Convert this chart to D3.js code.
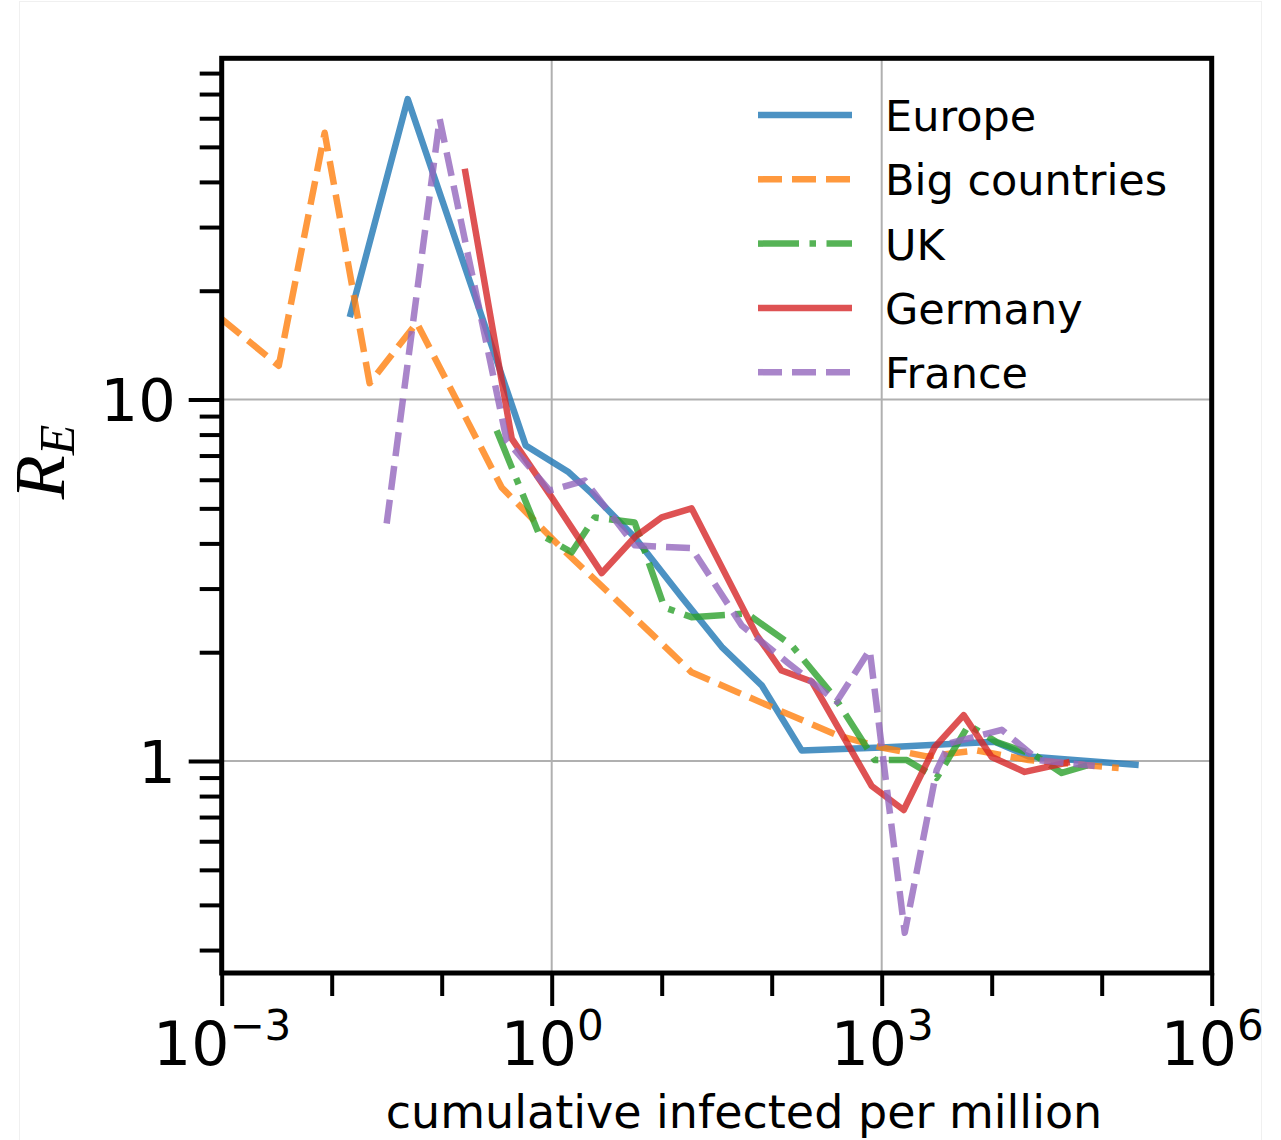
<!DOCTYPE html>
<html>
<head>
<meta charset="utf-8">
<script src="https://cdn.jsdelivr.net/npm/d3@7"></script>
<style>
  body { margin: 0; background: #fff; }
  svg { display: block; font-family: 'DejaVu Sans', sans-serif; }
</style>
</head>
<body>
<div id="chart"></div>
<script>
// values
const seriesNames = ['Europe', 'Big countries', 'UK', 'Germany', 'France'];

const europeX = [0.0146, 0.0491, 0.58, 1.43, 2.31, 5.68, 15.2, 35.1, 81.1, 187, 1000, 10640, 21700, 217000];
const europeY = [16.9, 67.8, 7.46, 6.29, 5.5, 4.16, 2.84, 2.07, 1.62, 1.07, 1.09, 1.13, 1.03, 0.975];

const bigX = [0.001, 0.0033, 0.00863, 0.0221, 0.0593, 0.351, 1.23, 3.51, 18.7, 100, 390, 1000, 2565, 7310, 21700, 142800];
const bigY = [16.7, 12.4, 54.7, 11.1, 16.3, 5.71, 3.88, 2.87, 1.76, 1.41, 1.18, 1.09, 1.03, 1.07, 1.006, 0.956];

const ukX = [0.316, 0.762, 1.52, 2.46, 5.68, 10.6, 18.7, 59.3, 152, 374, 864, 1690, 3160, 6180, 11100, 24600, 43300, 86400];
const ukY = [8.21, 4.26, 3.78, 4.72, 4.57, 2.66, 2.5, 2.56, 2.09, 1.5, 1.006, 1.006, 0.898, 1.257, 1.128, 1.039, 0.927, 0.987];

const germanyX = [0.162, 0.433, 1.0, 2.85, 5.68, 10, 18.7, 73.1, 123, 231, 811, 1585, 3030, 5560, 10000, 19950, 51200];
const germanyY = [43.5, 7.8, 5.36, 3.31, 4.16, 4.72, 5.0, 2.23, 1.78, 1.66, 0.853, 0.732, 1.093, 1.34, 1.026, 0.933, 0.994];

const franceX = [0.0316, 0.0959, 0.39, 0.959, 2.0, 5.68, 18.7, 53.4, 137, 390, 778, 1620, 3160, 4150, 12330, 26700, 86400];
const franceY = [4.54, 59.7, 7.7, 5.6, 5.97, 3.95, 3.88, 2.37, 1.88, 1.46, 2.03, 0.335, 0.944, 1.12, 1.22, 1.006, 0.969];

const xMajorTicks = [1e-3, 1e0, 1e3, 1e6];
const xMajorExp = ['\u22123', '0', '3', '6'];
const xMinorTicks = [1e-2, 1e-1, 1e1, 1e2, 1e4, 1e5];
const yMajorTicks = [1, 10];
const yMajorLabels = ['1', '10'];
const yMinorTicks = [0.3, 0.4, 0.5, 0.6, 0.7, 0.8, 0.9, 2, 3, 4, 5, 6, 7, 8, 9, 20, 30, 40, 50, 60, 70, 80];

const xDomain = [1e-3, 1e6];
const yDomain = [0.2592, 87.9];

const W = 1281, H = 1140;
const plot = { left: 221.7, right: 1211.7, top: 58.3, bottom: 973 };

const colors = ['#1f77b4', '#ff7f0e', '#2ca02c', '#d62728', '#9467bd'];
const lw = 6.5;
const dashes = [null, '24,10', '41,10.5,6.5,10.5', null, '24,10'];

const svg = d3.select('#chart').append('svg')
  .attr('width', W)
  .attr('height', H);

// faint frame of the picture
svg.append('rect')
  .attr('x', 19.5).attr('y', 1.5)
  .attr('width', 1242).attr('height', 1150)
  .attr('fill', 'none')
  .attr('stroke', '#f0f0f0')
  .attr('stroke-width', 1);

const x = d3.scaleLog().domain(xDomain).range([plot.left, plot.right]);
const y = d3.scaleLog().domain(yDomain).range([plot.bottom, plot.top]);

// grid
svg.append('g').selectAll('line')
  .data([1e0, 1e3])
  .enter().append('line')
  .attr('x1', d => x(d)).attr('x2', d => x(d))
  .attr('y1', plot.top).attr('y2', plot.bottom)
  .attr('stroke', '#b0b0b0').attr('stroke-width', 2);

svg.append('g').selectAll('line')
  .data(yMajorTicks)
  .enter().append('line')
  .attr('x1', plot.left).attr('x2', plot.right)
  .attr('y1', d => y(d)).attr('y2', d => y(d))
  .attr('stroke', '#b0b0b0').attr('stroke-width', 2);

// lines
const allSeries = [
  { xs: europeX, ys: europeY },
  { xs: bigX, ys: bigY },
  { xs: ukX, ys: ukY },
  { xs: germanyX, ys: germanyY },
  { xs: franceX, ys: franceY }
];

const line = d3.line()
  .x(d => x(d[0]))
  .y(d => y(d[1]));

svg.append('clipPath').attr('id', 'clip')
  .append('rect')
  .attr('x', plot.left).attr('y', plot.top)
  .attr('width', plot.right - plot.left)
  .attr('height', plot.bottom - plot.top);

const linesG = svg.append('g').attr('clip-path', 'url(#clip)');

allSeries.forEach((s, i) => {
  const pts = s.xs.map((v, k) => [v, s.ys[k]]);
  linesG.append('path')
    .datum(pts)
    .attr('d', line)
    .attr('fill', 'none')
    .attr('stroke', colors[i])
    .attr('stroke-opacity', 0.8)
    .attr('stroke-width', lw)
    .attr('stroke-linejoin', 'round')
    .attr('stroke-dasharray', dashes[i]);
});

// x axis
const xAxis = svg.append('g')
  .attr('transform', `translate(0,${plot.bottom})`)
  .call(d3.axisBottom(x).tickValues(xMajorTicks).tickSize(33).tickSizeOuter(0).tickFormat(() => ''));
svg.append('g')
  .attr('transform', `translate(0,${plot.bottom})`)
  .call(d3.axisBottom(x).tickValues(xMinorTicks).tickSize(23).tickSizeOuter(0).tickFormat(() => ''));

xAxis.selectAll('.tick').each(function(d, i) {
  const t = d3.select(this).select('text')
    .attr('y', 92)
    .attr('dy', null)
    .attr('font-size', 60)
    .attr('font-family', 'DejaVu Sans')
    .attr('fill', '#000')
    .attr('text-anchor', 'middle');
  t.append('tspan').text('10');
  t.append('tspan').attr('font-size', 42).attr('dy', -25).text(xMajorExp[i]);
});

// y axis
const yAxis = svg.append('g')
  .attr('transform', `translate(${plot.left},0)`)
  .call(d3.axisLeft(y).tickValues(yMajorTicks).tickSize(33).tickSizeOuter(0).tickFormat((d, i) => yMajorLabels[i]));
svg.append('g')
  .attr('transform', `translate(${plot.left},0)`)
  .call(d3.axisLeft(y).tickValues(yMinorTicks).tickSize(22).tickSizeOuter(0).tickFormat(() => ''));

yAxis.selectAll('text')
  .attr('x', -46)
  .attr('dy', '0.36em')
  .attr('font-size', 59)
  .attr('font-family', 'DejaVu Sans')
  .attr('fill', '#000');

svg.selectAll('.domain').remove();
svg.selectAll('.tick line').attr('stroke', '#000').attr('stroke-width', 4);

// spines
svg.append('rect')
  .attr('x', plot.left).attr('y', plot.top)
  .attr('width', plot.right - plot.left)
  .attr('height', plot.bottom - plot.top)
  .attr('fill', 'none')
  .attr('stroke', '#000')
  .attr('stroke-width', 5);

// axis titles
svg.append('text')
  .attr('x', 744)
  .attr('y', 1128)
  .attr('text-anchor', 'middle')
  .attr('font-size', 46)
  .attr('fill', '#000')
  .text('cumulative infected per million');

const yTitle = svg.append('text')
  .attr('transform', 'translate(64,462) rotate(-90)')
  .attr('text-anchor', 'middle')
  .attr('font-family', 'Liberation Serif, DejaVu Serif, serif')
  .attr('font-style', 'italic')
  .attr('fill', '#000');
yTitle.append('tspan').attr('font-size', 72).text('R');
yTitle.append('tspan').attr('font-size', 50).attr('dy', 10).text('E');

// legend
const legend = svg.append('g');
seriesNames.forEach((name, i) => {
  const ly = 115 + i * 64.3;
  legend.append('line')
    .attr('x1', 758).attr('x2', 852)
    .attr('y1', ly).attr('y2', ly)
    .attr('stroke', colors[i])
    .attr('stroke-opacity', 0.8)
    .attr('stroke-width', lw)
    .attr('stroke-dasharray', dashes[i]);
  legend.append('text')
    .attr('x', 885)
    .attr('y', ly + 16)
    .attr('font-size', 43)
    .attr('fill', '#000')
    .text(name);
});
</script>
</body>
</html>
